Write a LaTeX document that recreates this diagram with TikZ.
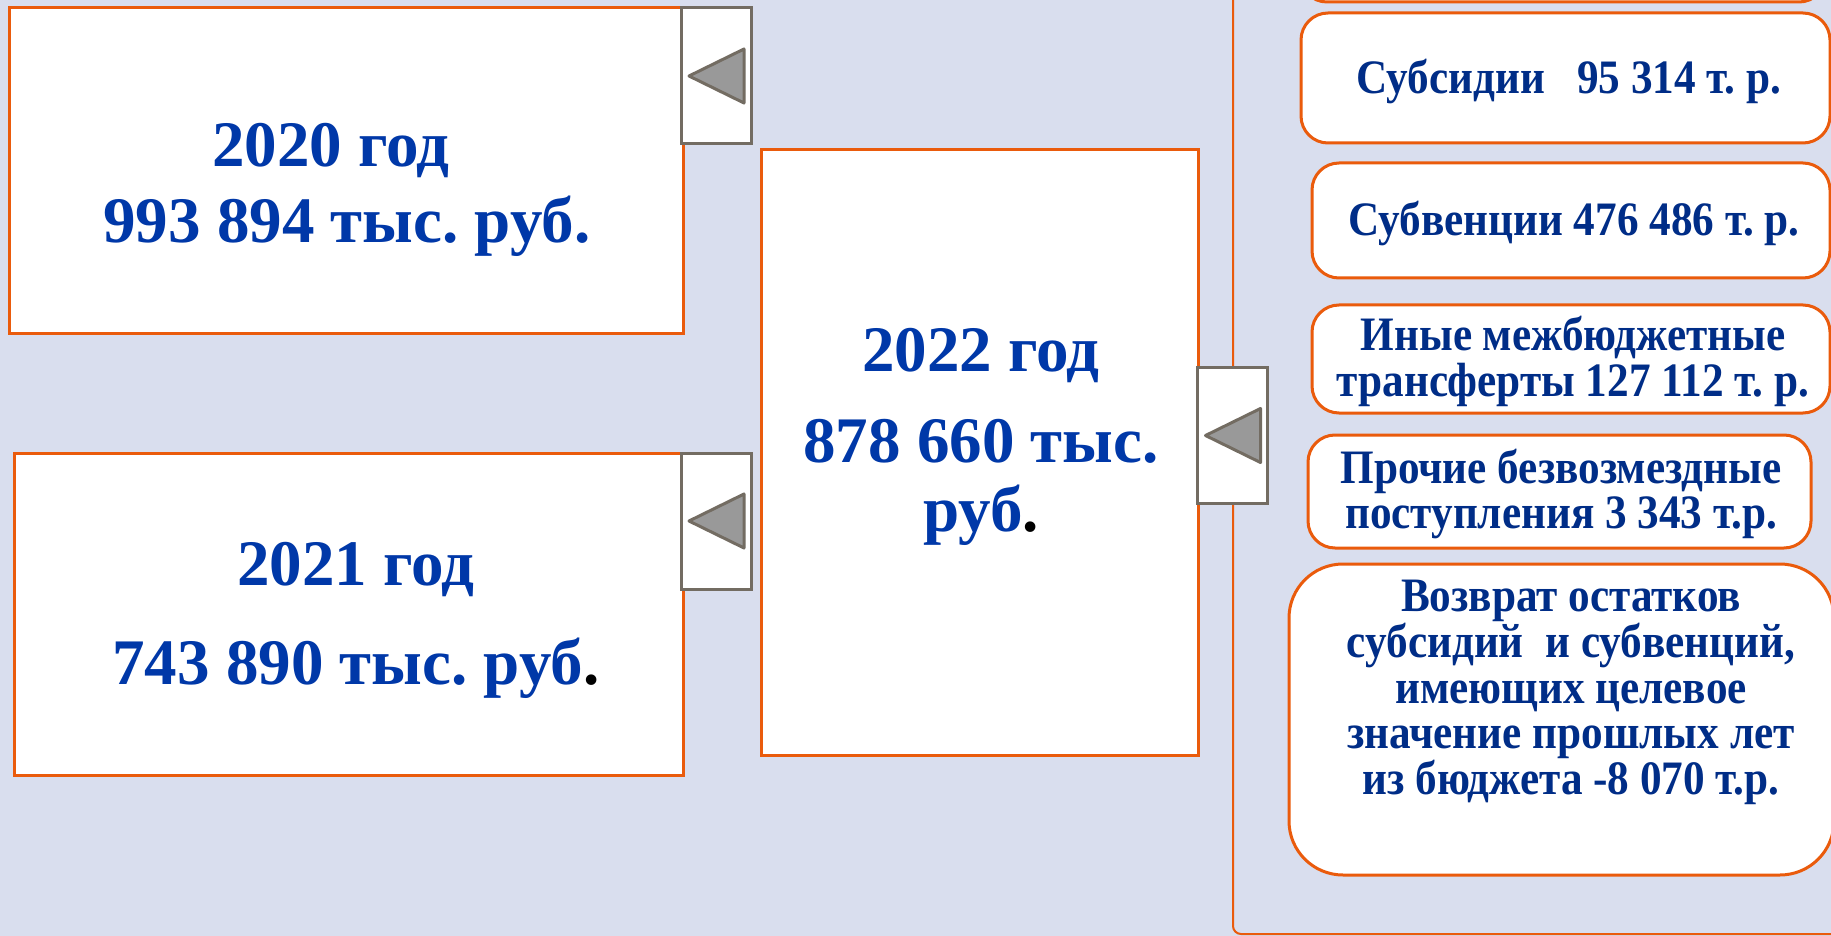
\documentclass[tikz,border=0pt]{standalone}
\usepackage{fontspec}
\setmainfont{Liberation Serif}
\newfontfamily\itemfont[FakeStretch=0.9]{Liberation Serif}
\frenchspacing
\usepackage{tikz}
\usetikzlibrary{calc}
\definecolor{bgfill}{RGB}{217,222,238}
\definecolor{boxline}{RGB}{234,91,12}
\definecolor{tabline}{RGB}{115,108,98}
\definecolor{tabfill}{RGB}{153,153,153}
\definecolor{yearblue}{RGB}{0,56,168}
\definecolor{itemblue}{RGB}{0,45,135}

\begin{document}
\begin{tikzpicture}[x=0.5pt,y=-0.5pt]
\tikzset{
  yearbox/.style={draw=boxline,line width=1.5pt,fill=white,inner sep=0pt,outer sep=0pt},
  itembox/.style={draw=boxline,line width=1.5pt,fill=white,rounded corners=13.5pt,inner sep=0pt,outer sep=0pt},
  tabbox/.style={draw=tabline,line width=1.5pt,fill=white,minimum width=35pt,minimum height=68pt,inner sep=0pt,outer sep=0pt},
  tabtri/.style={draw=tabline,line width=1.5pt,fill=tabfill,line join=round},
  yeartext/.style={text=yearblue,align=center,inner sep=0pt},
  itemtext/.style={text=itemblue,font=\itemfont\bfseries\fontsize{24}{22.9}\selectfont,align=center,inner sep=0pt}
}
\useasboundingbox[fill=bgfill] (0,0) rectangle (1831,936);
% right frame
\draw[boxline,line width=1pt,rounded corners=4pt] (1900,-40) -- (1233,-40) -- (1233,934) -- (1900,934);
% years
\node[yearbox,minimum width=337pt,minimum height=162.5pt] (y20) at (346,170.5) {};
\node[yearbox,minimum width=334.5pt,minimum height=161pt] (y21) at (348.5,614) {};
\node[yearbox,minimum width=218.5pt,minimum height=302.5pt] (y22) at (979.5,452.5) {};
\node[yeartext,font=\bfseries\fontsize{32.5}{38}\selectfont] (t20) at (347,190)
  {2020 год\hspace*{16pt}\\993 894 тыс. руб.};
\node[yeartext,font=\bfseries\fontsize{32.5}{49.5}\selectfont] (t21) at (356,620.5)
  {2021 год\\743 890 тыс. руб{\color{black}.}};
\node[yeartext,font=\bfseries\fontsize{32.5}{34.5}\selectfont] (t22) at (981,437)
  {2022 год\\[11pt]878 660 тыс.\\руб{\color{black}.}};
% tabs
\node[tabbox] (tab20) at (716,76) {};
\node[tabbox] (tab21) at (716,521) {};
\node[tabbox] (tab22) at (1232.5,435.5) {};
\foreach \t in {tab20,tab21,tab22}
  \draw[tabtri] ($(\t.west)+(8,0)$) -- ($(\t.east)+(-7,-27)$) -- ($(\t.east)+(-7,27)$) -- cycle;
% items
\node[itembox,minimum width=263pt,minimum height=31pt] (top) at (1563,-29) {};
\node[itembox,minimum width=264.5pt,minimum height=65pt] (subs) at (1565.5,78) {};
\node[itembox,minimum width=259pt,minimum height=57.5pt] (subv) at (1571,220.5) {};
\node[itembox,minimum width=259pt,minimum height=54pt] (inye) at (1571,359) {};
\node[itembox,minimum width=251.5pt,minimum height=56.5pt] (proch) at (1559.5,491.5) {};
\node[itembox,rounded corners=27pt,minimum width=272.5pt,minimum height=155.5pt] (vozv) at (1561.5,719.5) {};
\node[itemtext] (ts) at (1569,82) {Субсидии\ \ \ 95 314 т. р.};
\node[itemtext] (tv) at (1574,224) {Субвенции 476 486 т. р.};
\node[itemtext] (ti) at (1573,361.5) {Иные межбюджетные\\трансферты 127 112 т. р.};
\node[itemtext] (tp) at (1561,494) {Прочие безвозмездные\\поступления 3 343 т.р.};
\node[itemtext] (tz) at (1571,692.5) {Возврат остатков\\субсидий\ \ и субвенций,\\имеющих целевое\\значение прошлых лет\\из бюджета -8 070 т.р.};
\end{tikzpicture}
\end{document}
